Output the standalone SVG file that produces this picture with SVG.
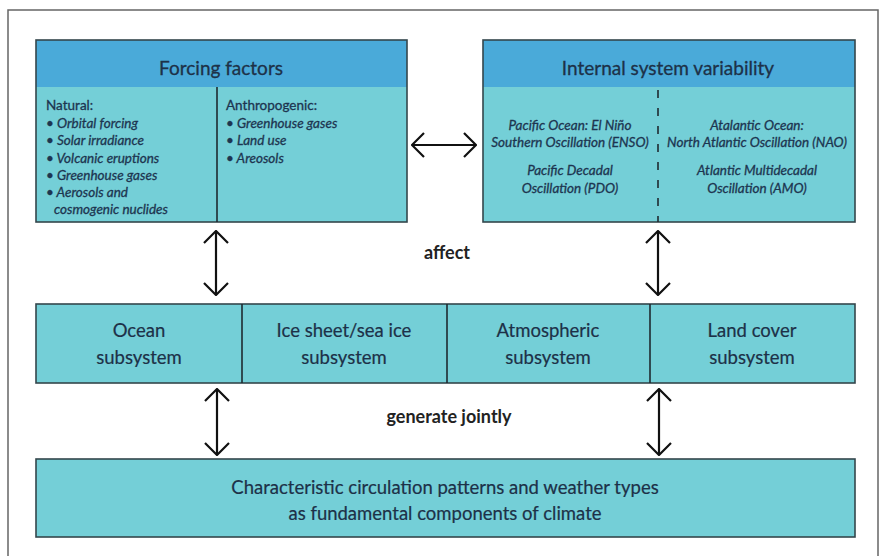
<svg xmlns="http://www.w3.org/2000/svg" width="884" height="556" viewBox="0 0 884 556">
<style>
.frame{fill:none;stroke:#666;stroke-width:1.5}
.hdr{fill:#4aaad9}
.body{fill:#74cfd7}
.box{fill:none;stroke:#34464c;stroke-width:1.6}
.div{stroke:#1e2a30;stroke-width:1.6}
.dash{stroke:#1e2a30;stroke-width:1.6;stroke-dasharray:8 10}
text{font-family:Lato,"Open Sans",sans-serif;stroke-width:0.3}
.title{font-size:19px;fill:#1d3148;stroke:#1d3148;text-anchor:middle}
.it{font-size:13.5px;font-style:italic;fill:#1d3550;stroke:#1d3550}
.lbl{font-size:13.5px;fill:#1d3550;stroke:#1d3550}
.itc{font-size:13.5px;font-style:italic;fill:#1d3550;stroke:#1d3550;text-anchor:middle}
.sub{font-size:18.5px;fill:#1d3148;stroke:#1d3148;stroke-width:0.2;text-anchor:middle}
.verb{font-size:18px;font-weight:bold;fill:#222;text-anchor:middle}
.arr{stroke:#111;stroke-width:2.2;fill:none;marker-start:url(#ah);marker-end:url(#ah)}
</style>
<defs>
<marker id="ah" viewBox="0 0 14 26" refX="13" refY="13" markerWidth="14" markerHeight="26" markerUnits="userSpaceOnUse" orient="auto-start-reverse">
<path d="M1,1 L13,13 L1,25" fill="none" stroke="#111" stroke-width="2.2"/>
</marker>
</defs>
<rect width="884" height="556" fill="#fff"/>
<path class="frame" d="M8,556 V10 H878 V556"/>

<g id="forcing">
<rect class="body" x="36" y="40" width="371" height="182"/>
<rect class="hdr" x="36" y="40" width="371" height="47"/>
<rect class="box" x="36" y="40" width="371" height="182"/>
<line class="div" x1="217" y1="87" x2="217" y2="222"/>
<text class="title" x="221" y="75">Forcing factors</text>
<text class="lbl" x="46" y="110">Natural:</text>
<text class="it" x="46" y="128">• Orbital forcing</text>
<text class="it" x="46" y="145">• Solar irradiance</text>
<text class="it" x="46" y="163">• Volcanic eruptions</text>
<text class="it" x="46" y="180">• Greenhouse gases</text>
<text class="it" x="46" y="197">• Aerosols and</text>
<text class="it" x="54" y="214">cosmogenic nuclides</text>
<text class="lbl" x="226" y="110">Anthropogenic:</text>
<text class="it" x="226" y="128">• Greenhouse gases</text>
<text class="it" x="226" y="145">• Land use</text>
<text class="it" x="226" y="163">• Areosols</text>
</g>

<g id="internal">
<rect class="body" x="483" y="40" width="372" height="182"/>
<rect class="hdr" x="483" y="40" width="372" height="47"/>
<rect class="box" x="483" y="40" width="372" height="182"/>
<line class="dash" x1="658" y1="90" x2="658" y2="222"/>
<text class="title" x="668" y="75">Internal system variability</text>
<text class="itc" x="570" y="130">Pacific Ocean: El Niño</text>
<text class="itc" x="570" y="147">Southern Oscillation (ENSO)</text>
<text class="itc" x="570" y="175">Pacific Decadal</text>
<text class="itc" x="570" y="193">Oscillation (PDO)</text>
<text class="itc" x="757" y="130">Atalantic Ocean:</text>
<text class="itc" x="757" y="147">North Atlantic Oscillation (NAO)</text>
<text class="itc" x="757" y="175">Atlantic Multidecadal</text>
<text class="itc" x="757" y="193">Oscillation (AMO)</text>
</g>

<g id="subsystems">
<rect class="body" x="36" y="304" width="819" height="79"/>
<rect class="box" x="36" y="304" width="819" height="79"/>
<line class="div" x1="242" y1="304" x2="242" y2="383"/>
<line class="div" x1="447" y1="304" x2="447" y2="383"/>
<line class="div" x1="650" y1="304" x2="650" y2="383"/>
<text class="sub" x="139" y="337">Ocean</text>
<text class="sub" x="139" y="364">subsystem</text>
<text class="sub" x="344" y="337">Ice sheet/sea ice</text>
<text class="sub" x="344" y="364">subsystem</text>
<text class="sub" x="548" y="337">Atmospheric</text>
<text class="sub" x="548" y="364">subsystem</text>
<text class="sub" x="752" y="337">Land cover</text>
<text class="sub" x="752" y="364">subsystem</text>
</g>

<g id="climate">
<rect class="body" x="36" y="459" width="819" height="78"/>
<rect class="box" x="36" y="459" width="819" height="78"/>
<text class="sub" x="445" y="494">Characteristic circulation patterns and weather types</text>
<text class="sub" x="445" y="520">as fundamental components of climate</text>
</g>

<g id="connectors">
<line class="arr" x1="412" y1="145" x2="476" y2="145"/>
<line class="arr" x1="216" y1="231" x2="216" y2="295"/>
<line class="arr" x1="658" y1="231" x2="658" y2="295"/>
<line class="arr" x1="217" y1="389" x2="217" y2="455"/>
<line class="arr" x1="659" y1="389" x2="659" y2="455"/>
<text class="verb" x="447" y="259">affect</text>
<text class="verb" x="449" y="423">generate jointly</text>
</g>
</svg>
